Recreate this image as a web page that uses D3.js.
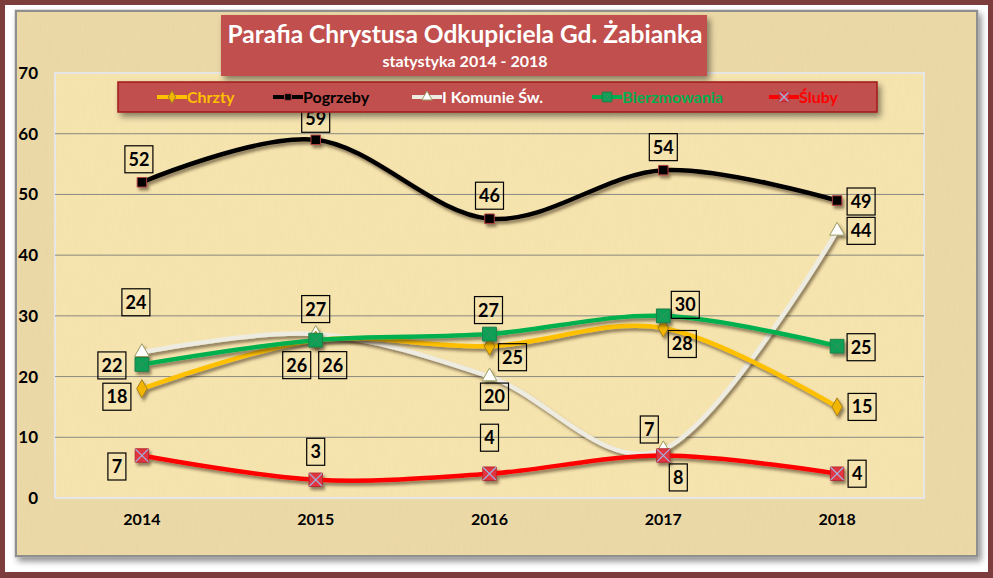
<!DOCTYPE html>
<html>
<head>
<meta charset="utf-8">
<script src="https://cdn.jsdelivr.net/npm/d3@7"></script>
<style>
  html, body { margin: 0; padding: 0; background: #fff; }
  svg { display: block; }
  text { font-family: Lato, "Open Sans", sans-serif; font-weight: bold; }
</style>
</head>
<body>
<div id="chart"></div>
<script>
const years = ["2014", "2015", "2016", "2017", "2018"]
const yTicks = [0, 10, 20, 30, 40, 50, 60, 70]

const chrzty = [18, 26, 25, 28, 15]
const pogrzeby = [52, 59, 46, 54, 49]
const komunie = [24, 27, 20, 8, 44]
const bierzmowania = [22, 26, 27, 30, 25]
const sluby = [7, 3, 4, 7, 4]

const seriesNames = ["Chrzty", "Pogrzeby", "I Komunie Św.", "Bierzmowania", "Śluby"]

// label offsets (dx, dy) from each point, as placed in the original
const labelOffsets = {
    "Chrzty": [[-25, 8], [-19, 25], [23, 11], [19, 16], [25, 0]],
    "Pogrzeby": [[-3, -23], [0, -21], [0, -23], [0, -23], [24, 1]],
    "I Komunie Św.": [[-6, -50], [0, -25], [5, 20], [15, 28], [24, 0]],
    "Bierzmowania": [[-30, 1], [17, 25], [-1, -24], [22, -11], [24, 1]],
    "Śluby": [[-25, 11], [0, -28], [0, -36], [-14, -26], [20, 0]],
}

const width = 993
const height = 578

const series = [
    {name: seriesNames[0], values: chrzty, color: "#ffc000", text: "#ffc000", marker: "diamond"},
    {name: seriesNames[1], values: pogrzeby, color: "#000000", text: "#000000", marker: "smallsquare"},
    {name: seriesNames[2], values: komunie, color: "#eeece1", text: "#ffffff", marker: "triangle"},
    {name: seriesNames[3], values: bierzmowania, color: "#00b050", text: "#00b050", marker: "bigsquare"},
    {name: seriesNames[4], values: sluby, color: "#ff0000", text: "#ff0000", marker: "xsquare"},
]

const svg = d3.select("#chart").append("svg")
    .attr("width", width)
    .attr("height", height)

const defs = svg.append("defs")

// parchment texture
function paperFilter(id, alpha) {
    const f = defs.append("filter").attr("id", id)
        .attr("x", 0).attr("y", 0).attr("width", "100%").attr("height", "100%")
    f.append("feTurbulence")
        .attr("type", "fractalNoise")
        .attr("baseFrequency", "0.9 0.05")
        .attr("numOctaves", 2)
        .attr("seed", 3)
        .attr("result", "noise")
    f.append("feColorMatrix")
        .attr("in", "noise")
        .attr("type", "matrix")
        .attr("values", `0 0 0 0 0.72  0 0 0 0 0.58  0 0 0 0 0.3  0 0 0 ${alpha} 0`)
        .attr("result", "tint")
    f.append("feComposite").attr("in", "tint").attr("in2", "SourceGraphic").attr("operator", "atop")
}
paperFilter("paper", 0.22)
paperFilter("paper2", 0.14)

const shadow = defs.append("filter").attr("id", "shadow")
    .attr("x", "-10%").attr("y", "-10%").attr("width", "130%").attr("height", "140%")
shadow.append("feDropShadow")
    .attr("dx", 2).attr("dy", 3).attr("stdDeviation", 1.6)
    .attr("flood-color", "#3a2a10").attr("flood-opacity", 0.55)

const boxShadow = defs.append("filter").attr("id", "boxshadow")
    .attr("x", "-5%").attr("y", "-20%").attr("width", "115%").attr("height", "160%")
boxShadow.append("feDropShadow")
    .attr("dx", 3).attr("dy", 4).attr("stdDeviation", 3)
    .attr("flood-color", "#000").attr("flood-opacity", 0.45)

// outer frame
svg.append("rect").attr("width", width).attr("height", height).attr("fill", "#7e3d3d")
svg.append("rect").attr("x", 5).attr("y", 5).attr("width", width - 10).attr("height", height - 11).attr("fill", "#ffffff")

svg.append("rect")
    .attr("x", 16).attr("y", 11).attr("width", 961).attr("height", 545)
    .attr("fill", "#ecdaa8")
    .attr("stroke", "#8f8f8f").attr("stroke-width", 2.5)
    .attr("filter", "url(#boxshadow)")
svg.append("rect")
    .attr("x", 17).attr("y", 12).attr("width", 959).attr("height", 543)
    .attr("fill", "#ecdaa8")
    .attr("filter", "url(#paper)")

const margin = {left: 55, right: 69, top: 73, bottom: 80}

const x = d3.scaleBand()
    .domain(years)
    .range([margin.left, width - margin.right])

const y = d3.scaleLinear()
    .domain([0, 70])
    .range([height - margin.bottom, margin.top])

const px = i => x(years[i]) + x.bandwidth() / 2

// plot area
svg.append("rect")
    .attr("x", x.range()[0]).attr("y", y(70))
    .attr("width", x.range()[1] - x.range()[0]).attr("height", y(0) - y(70))
    .attr("fill", "#f7e5b0")
    .attr("filter", "url(#paper2)")
svg.append("rect")
    .attr("x", x.range()[0]).attr("y", y(70))
    .attr("width", x.range()[1] - x.range()[0]).attr("height", y(0) - y(70))
    .attr("fill", "none")
    .attr("stroke", "#e6e6e6").attr("stroke-width", 2)

// gridlines
svg.append("g")
    .selectAll("line")
    .data(yTicks.filter(t => t > 0 && t < 70))
    .join("line")
    .attr("x1", x.range()[0]).attr("x2", x.range()[1])
    .attr("y1", d => y(d)).attr("y2", d => y(d))
    .attr("stroke", "#8a8a80").attr("stroke-width", 1)

// axes
const yAxis = svg.append("g")
    .attr("transform", `translate(${margin.left},0)`)
    .call(d3.axisLeft(y).tickValues(yTicks).tickSize(0).tickPadding(17))
yAxis.select(".domain").remove()
yAxis.selectAll("text")
    .attr("font-size", 17).attr("fill", "#000")
    .attr("font-family", "Lato, sans-serif").attr("font-weight", "bold")

const xAxis = svg.append("g")
    .attr("transform", `translate(0,${y(0)})`)
    .call(d3.axisBottom(x).tickSize(0).tickPadding(16))
xAxis.select(".domain").remove()
xAxis.selectAll("text")
    .attr("font-size", 16).attr("fill", "#000")
    .attr("font-family", "Lato, sans-serif").attr("font-weight", "bold")

// markers
function drawMarker(g, type, scale) {
    const s = scale || 1
    if (type === "diamond") {
        g.append("path")
            .attr("d", d3.symbol(d3.symbolDiamond, 95 * s * s)())
            .attr("fill", "#f2b600").attr("stroke", "#a38020").attr("stroke-width", 1)
    } else if (type === "smallsquare") {
        g.append("path")
            .attr("d", d3.symbol(d3.symbolSquare, 90 * s * s)())
            .attr("fill", "#000").attr("stroke", "#b04040").attr("stroke-width", 1)
    } else if (type === "triangle") {
        g.append("path")
            .attr("d", d3.symbol(d3.symbolTriangle, 95 * s * s)())
            .attr("fill", "#ffffff").attr("stroke", "#9a9a60").attr("stroke-width", 1)
    } else if (type === "bigsquare") {
        g.append("path")
            .attr("d", d3.symbol(d3.symbolSquare, 190 * s * s)())
            .attr("fill", "#10a055").attr("stroke", "#1f7f4c").attr("stroke-width", 1)
        g.append("path")
            .attr("d", d3.symbol(d3.symbolX, 60 * s * s)())
            .attr("fill", "none").attr("stroke", "#3c8f66").attr("stroke-width", 0.8)
    } else if (type === "xsquare") {
        g.append("path")
            .attr("d", d3.symbol(d3.symbolSquare, 180 * s * s)())
            .attr("fill", "#e33540").attr("stroke", "#b52a33").attr("stroke-width", 1)
        g.append("path")
            .attr("d", d3.symbol(d3.symbolX, 110 * s * s)())
            .attr("fill", "none").attr("stroke", "#9db4e0").attr("stroke-width", 1.2)
    }
}

const line = d3.line()
    .x((d, i) => px(i))
    .y(d => y(d))
    .curve(d3.curveCatmullRom.alpha(0))

const order = [2, 0, 3, 1, 4]
order.forEach(k => {
    const s = series[k]
    const g = svg.append("g").attr("filter", "url(#shadow)")
    g.append("path")
        .datum(s.values)
        .attr("d", line)
        .attr("fill", "none")
        .attr("stroke", s.color)
        .attr("stroke-width", 4.5)
        .attr("stroke-linecap", "round")
    s.values.forEach((v, i) => {
        const m = g.append("g").attr("transform", `translate(${px(i)},${y(v)})`)
        drawMarker(m, s.marker)
    })
})

// data labels
series.forEach(s => {
    const offs = labelOffsets[s.name]
    s.values.forEach((v, i) => {
        const cx = px(i) + offs[i][0]
        const cy = y(v) + offs[i][1]
        const txt = String(v)
        const w = txt.length > 1 ? 28 : 18
        const lg = svg.append("g").attr("transform", `translate(${cx},${cy})`)
        lg.append("rect")
            .attr("x", -w / 2).attr("y", -13.5)
            .attr("width", w).attr("height", 27)
            .attr("fill", "none").attr("stroke", "#000").attr("stroke-width", 1.2)
        lg.append("text")
            .attr("text-anchor", "middle")
            .attr("dy", "0.36em")
            .attr("font-size", 18)
            .attr("fill", "#000")
            .text(txt)
    })
})

// title box
const tg = svg.append("g")
tg.append("rect")
    .attr("x", 221).attr("y", 15).attr("width", 486).attr("height", 61)
    .attr("fill", "#c0504d")
    .attr("filter", "url(#boxshadow)")
tg.append("text")
    .attr("x", 465).attr("y", 43)
    .attr("text-anchor", "middle")
    .attr("font-size", 24.5).attr("fill", "#fff")
    .text("Parafia Chrystusa Odkupiciela Gd. Żabianka")
tg.append("text")
    .attr("x", 465).attr("y", 67)
    .attr("text-anchor", "middle")
    .attr("font-size", 16).attr("fill", "#fff")
    .text("statystyka 2014 - 2018")

// legend
const lg = svg.append("g")
lg.append("rect")
    .attr("x", 118).attr("y", 82).attr("width", 759).attr("height", 30)
    .attr("fill", "#c0504d").attr("stroke", "#a01818").attr("stroke-width", 1.5)
    .attr("filter", "url(#boxshadow)")

const legendX = [157, 273, 412, 592, 769]
series.forEach((s, k) => {
    const g = lg.append("g").attr("transform", `translate(${legendX[k]},97)`)
    g.append("line")
        .attr("x1", 0).attr("x2", 30)
        .attr("stroke", s.color).attr("stroke-width", 4)
    const m = g.append("g").attr("transform", "translate(15,0)")
    drawMarker(m, s.marker, 0.7)
    g.append("text")
        .attr("x", 30).attr("dy", "0.35em")
        .attr("font-size", 16)
        .attr("fill", s.text)
        .text(s.name)
})
</script>
</body>
</html>
